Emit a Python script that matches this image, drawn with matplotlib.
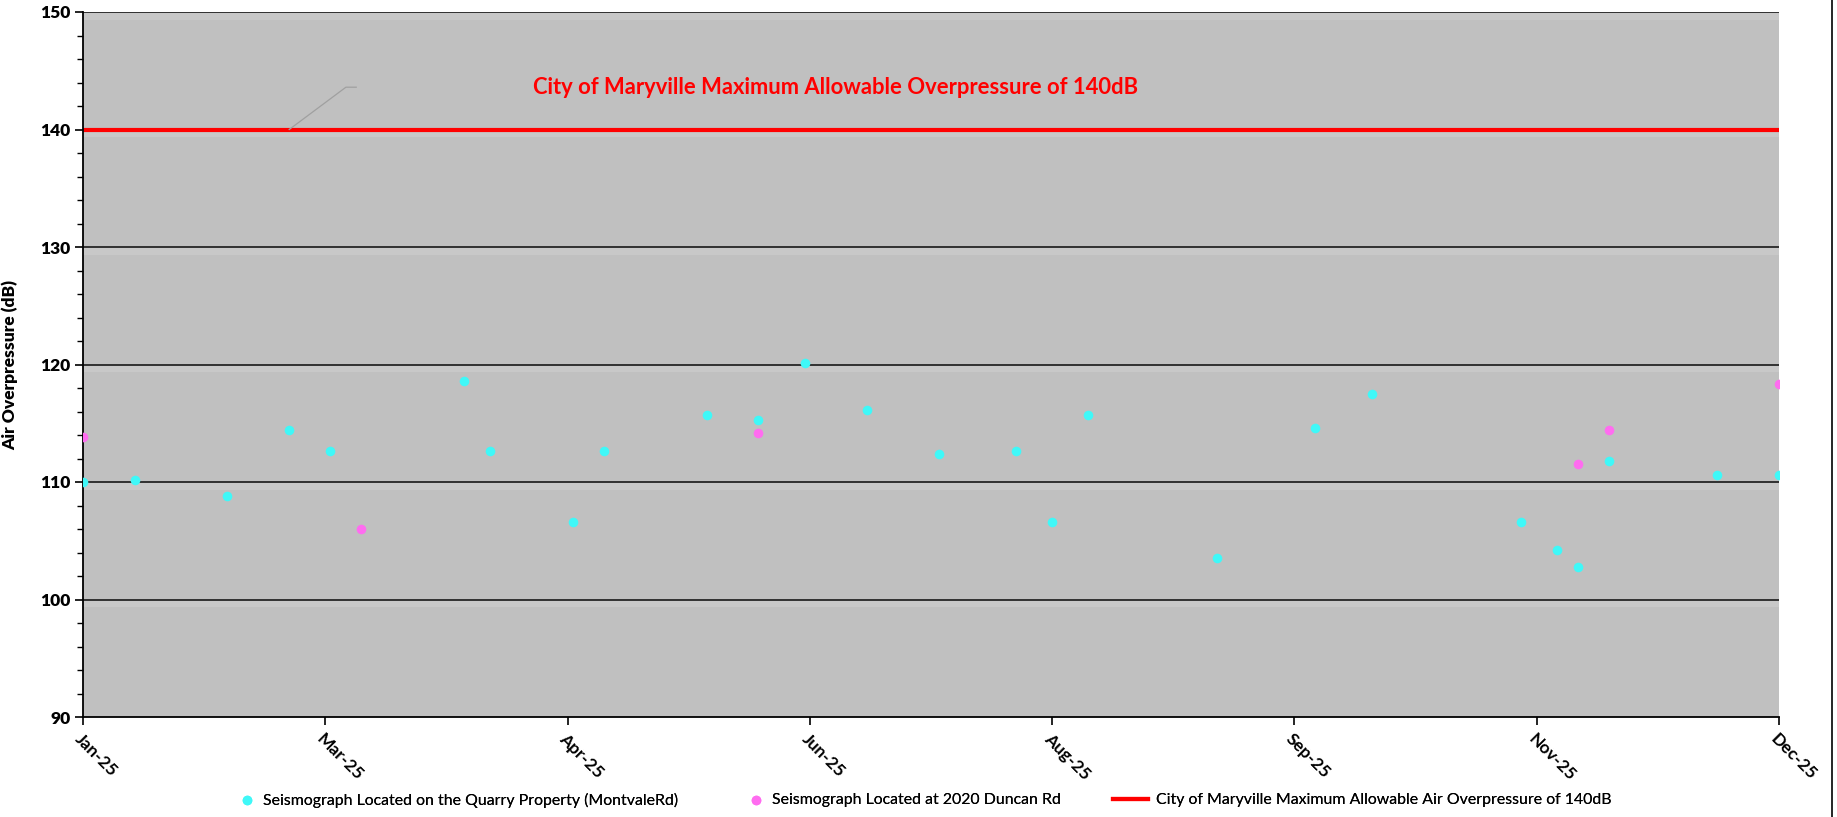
import matplotlib
matplotlib.use("Agg")
import matplotlib.pyplot as plt
import matplotlib.dates as mdates
import numpy as np
import pandas as pd

plt.rcParams['font.family'] = ['Lato', 'DejaVu Sans']

# readings from the Quarry property seismograph (Montvale Rd)
quarry_dates = ['2025-01-25', '2025-02-04', '2025-02-22', '2025-03-06', '2025-03-14',
                '2025-04-09', '2025-04-14', '2025-04-30', '2025-05-06', '2025-05-26',
                '2025-06-05', '2025-06-14', '2025-06-26', '2025-07-10', '2025-07-25',
                '2025-08-01', '2025-08-08', '2025-09-02', '2025-09-21', '2025-10-02',
                '2025-10-31', '2025-11-07', '2025-11-11', '2025-11-17', '2025-12-08',
                '2025-12-20']
quarry_db = [110.0, 110.2, 108.8, 114.4, 112.6,
             118.6, 112.6, 106.6, 112.6, 115.7,
             115.3, 120.1, 116.1, 112.4, 112.6,
             106.6, 115.7, 103.5, 114.6, 117.5,
             106.6, 104.2, 102.8, 111.8, 110.6,
             110.6]

# readings from 2020 Duncan Rd
duncan_dates = ['2025-01-25', '2025-03-20', '2025-06-05', '2025-11-11', '2025-11-17', '2025-12-20']
duncan_db = [113.8, 106.0, 114.2, 111.5, 114.4, 118.3]

limit_db = 140
axis_start = '2025-01-25'
tick_step_days = 47
n_ticks = 8

quarry_x = pd.to_datetime(quarry_dates)
duncan_x = pd.to_datetime(duncan_dates)
tick_x = pd.date_range(axis_start, periods=n_ticks, freq=f'{tick_step_days}D')

fig = plt.figure(figsize=(18.37, 8.17), dpi=100)
ax = fig.add_axes([83 / 1837, 1 - 717 / 817, (1779 - 83) / 1837, (717 - 12) / 817])
ax.set_facecolor('#c0c0c0')

# grid lines with the light band Excel draws under each one
for y in range(100, 151, 10):
    ax.axhspan(y - 0.65, y, color='#c8c8c8', lw=0, zorder=0.5)
    ax.axhline(y, color='#262626', lw=1.3, zorder=1)

limit_line = ax.axhline(limit_db, color='#ff0000', lw=3, zorder=2)

quarry_pts = ax.scatter(quarry_x, quarry_db, s=48, color='#3ff8f8', lw=0, zorder=3)
duncan_pts = ax.scatter(duncan_x, duncan_db, s=48, color='#ff6cf0', lw=0, zorder=3)

# leader line from the limit line up towards the label
lead_x = pd.to_datetime(['2025-03-06', '2025-03-17', '2025-03-19'])
ax.plot(lead_x, [140, 143.6, 143.6], color='#a0a0a0', lw=0.9, zorder=2)
ax.text(pd.Timestamp('2025-06-20'), 143.6,
        'City of Maryville Maximum Allowable Overpressure of 140dB',
        color='#ff0000', fontsize=15.8, fontweight='bold', ha='center', va='center')

ax.set_ylim(90, 150)
ax.set_xlim(tick_x[0], tick_x[-1])
ax.set_yticks(range(90, 151, 10))
ax.set_yticks(np.arange(90, 151, 2), minor=True)
ax.set_xticks(tick_x)
ax.xaxis.set_major_formatter(mdates.DateFormatter('%b-%y'))
ax.tick_params(axis='y', which='major', length=6, width=1.2, labelsize=12.5, pad=3)
ax.tick_params(axis='y', which='minor', length=4, width=1.0)
ax.tick_params(axis='x', length=6, width=1.2, labelsize=12.5, pad=4)
for lab in ax.get_yticklabels():
    lab.set_fontweight('heavy')
for lab in ax.get_xticklabels():
    lab.set_fontweight('bold')
    lab.set_rotation(-45)
    lab.set_ha('left')
    lab.set_va('top')
    lab.set_rotation_mode('anchor')

ax.set_ylabel('Air Overpressure (dB)', fontsize=12.5, fontweight='heavy', labelpad=16)

for side in ['top', 'right']:
    ax.spines[side].set_visible(False)
for side in ['left', 'bottom']:
    ax.spines[side].set_color('black')
    ax.spines[side].set_linewidth(1.3)

# legend entries placed one by one, like Excel spreads them
legend_items = [
    (quarry_pts, 'Seismograph Located on the Quarry Property (MontvaleRd)', 239, 1.0),
    (duncan_pts, 'Seismograph Located at 2020 Duncan Rd', 748, 1.0),
    (limit_line, 'City of Maryville Maximum Allowable Air Overpressure of 140dB', 1113, 2.2),
]
for handle, text, left_px, hlen in legend_items:
    leg = fig.legend([handle], [text], loc='center left',
                     bbox_to_anchor=(left_px / 1837, 1 - 800 / 817),
                     frameon=False, fontsize=11.4, handlelength=hlen,
                     handletextpad=0.5, borderpad=0, borderaxespad=0)
    fig.add_artist(leg)

# chart area border on the right
fig.add_artist(plt.Line2D([1832 / 1837, 1832 / 1837], [0, 1], color='black', lw=1.2))

fig.savefig('out.png', dpi=100)
